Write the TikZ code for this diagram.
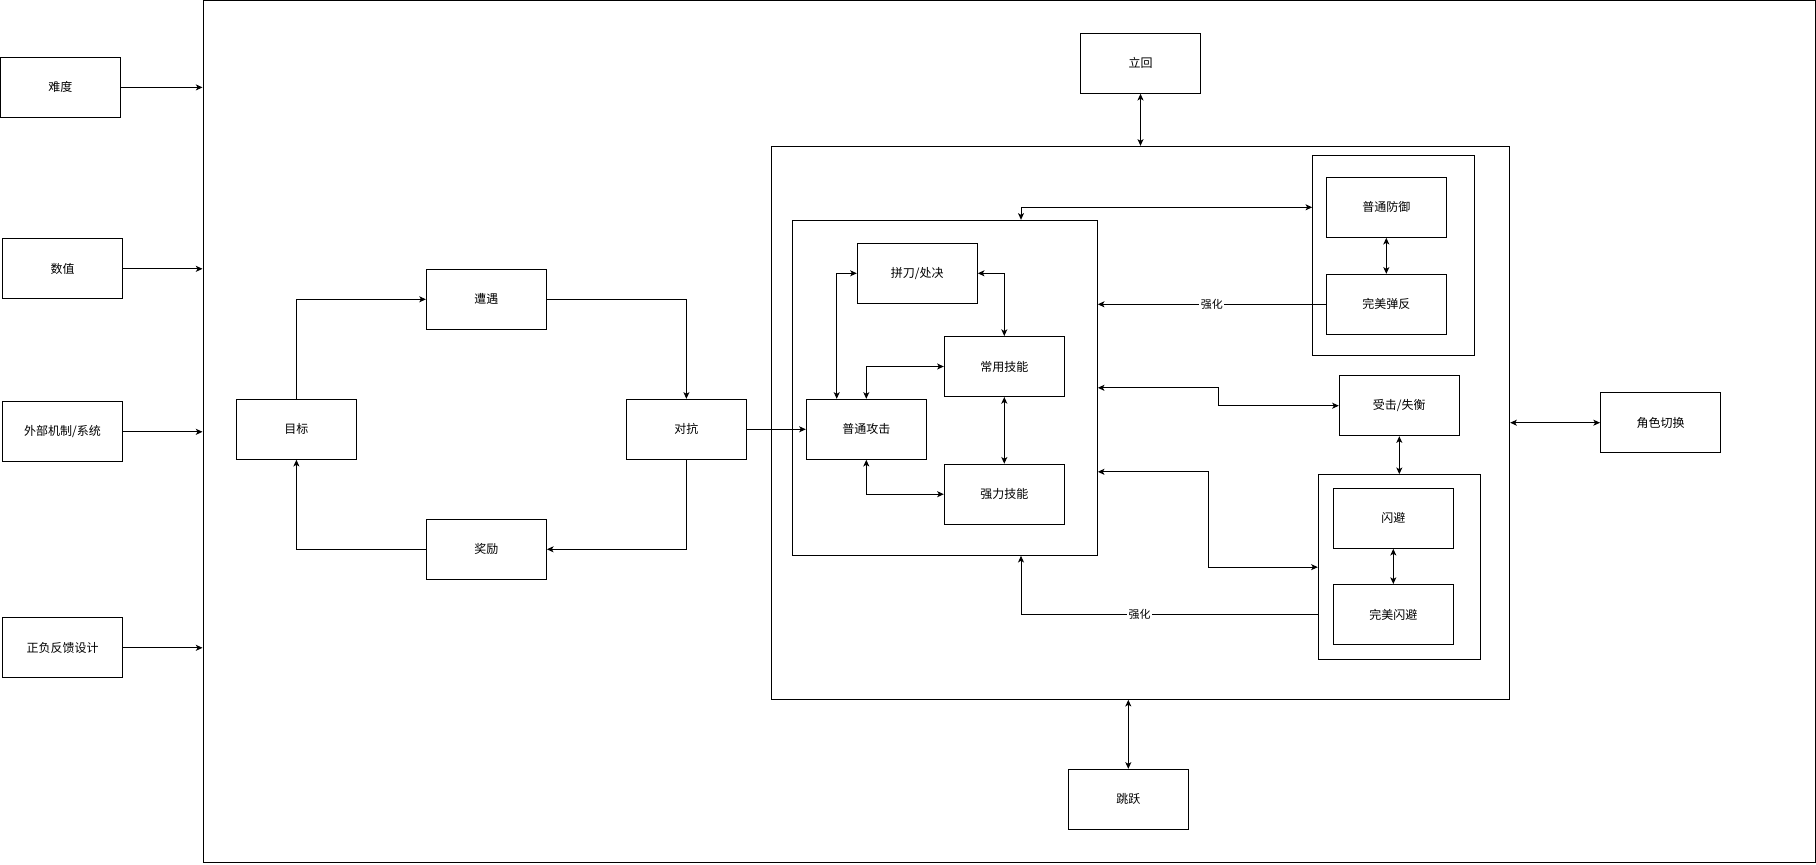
\documentclass[tikz,border=0pt]{standalone}
\usepackage{fontspec}
\newfontfamily\cjk{Noto Sans CJK SC}
\usetikzlibrary{arrows.meta, calc, positioning}

\tikzset{
  box/.style={draw, line width=0.75pt, minimum width=90pt, minimum height=45pt, inner sep=0pt, font=\cjk\fontsize{9}{11}\selectfont},
  frame/.style={draw, line width=0.75pt, inner sep=0pt},
  link/.style={line width=0.75pt},
  tag/.style={fill=white, inner sep=1pt, font=\cjk\fontsize{8.25}{10}\selectfont},
}

\begin{document}
\begin{tikzpicture}[x=0.75pt, y=-0.75pt, >={Stealth[length=5pt,width=4.5pt,inset=1.3pt]}]
               \useasboundingbox (0,0) rectangle (1816,864);

               %% frames
               \node[frame, minimum width=1209pt, minimum height=646.5pt] (system) at (1009, 431.5) {};
               \node[frame, minimum width=554pt, minimum height=414.75pt] (combat) at (1140.35, 422.8) {};
               \node[frame, minimum width=228.75pt, minimum height=251.25pt] (attack) at (944.8, 387.8) {};
               \node[frame, minimum width=121pt, minimum height=150.4pt] (defense) at (1393.35, 255.45) {};
               \node[frame, minimum width=121.8pt, minimum height=138.75pt] (dodgebox) at (1399.5, 567.15) {};

               %% inputs
               \node[box] (difficulty) at (60.3, 87.4) {难度};
               \node[box] (numeric) at (62.5, 268.8) {数值};
               \node[box] (mech) at (62.5, 431.8) {外部机制/系统};
               \node[box] (feedback) at (62.5, 647.8) {正负反馈设计};
               \draw[link, ->] (difficulty) -- (difficulty -| system.west);
               \draw[link, ->] (numeric) -- (numeric -| system.west);
               \draw[link, ->] (mech) -- (mech -| system.west);
               \draw[link, ->] (feedback) -- (feedback -| system.west);

               %% loop
               \node[box] (goal) at (296.4, 429.3) {目标};
               \node[box] (encounter) at (486.4, 299.3) {遭遇};
               \node[box] (fight) at (686.4, 429.3) {对抗};
               \node[box] (reward) at (486.4, 549.3) {奖励};
               \draw[link, ->] (goal) |- (encounter);
               \draw[link, ->] (encounter) -| (fight);
               \draw[link, ->] (fight) |- (reward);
               \draw[link, ->] (reward) -| (goal);

               %% attack
               \node[box] (clash) at (917.3, 273.3) {拼刀/处决};
               \node[box] (skill) at (1004.3, 366.5) {常用技能};
               \node[box] (normal) at (866.3, 429.3) {普通攻击};
               \node[box] (power) at (1004.3, 494.2) {强力技能};
               \draw[link, ->] (fight) -- (normal);
               \draw[link, <->] ($(normal.north) + (-29.6, 0)$) |- (clash.west);
               \draw[link, <->] (normal) |- (skill);
               \draw[link, <->] (clash) -| (skill);
               \draw[link, <->] (skill) -- (power);
               \draw[link, <->] (normal) |- (power);

               %% defense
               \node[box] (guard) at (1386.3, 207.3) {普通防御};
               \node[box] (parry) at (1386.3, 304.3) {完美弹反};
               \draw[link, <->] (guard) -- (parry);
               \draw[link, <->] ($(attack.north) + (76.2, 0)$) |- (defense.west |- guard);
               \draw[link, ->] (parry) -- (parry -| attack.east) node[midway, tag] {强化};

               %% hit / dodge
               \node[box] (hit) at (1399.3, 405.7) {受击/失衡};
               \node[box] (dodge) at (1393.3, 518.3) {闪避};
               \node[box] (pdodge) at (1393.3, 614.5) {完美闪避};
               \draw[link, <->] (hit.south) -- (hit.south |- dodgebox.north);
               \draw[link, <->] (dodge) -- (pdodge);
               \draw[link, <->] (attack.east) -- ++(121, 0) |- (hit.west);
               \draw[link, <->] ($(attack.east) + (0, 84)$) -- ++(110.7, 0) |- (dodgebox.west);
               \draw[link, ->] (dodgebox.west |- pdodge) -| ($(attack.south) + (76.2, 0)$) node[pos=0.3, tag] {强化};

               %% outside combat
               \node[box] (neutral) at (1140.5, 63.3) {立回};
               \node[box] (jump) at (1128.3, 799.3) {跳跃};
               \node[box] (swap) at (1660.5, 422.7) {角色切换};
               \draw[link, <->] (neutral) -- (neutral |- combat.north);
               \draw[link, <->] (jump |- combat.south) -- (jump);
               \draw[link, <->] (swap -| combat.east) -- (swap);
\end{tikzpicture}
\end{document}
